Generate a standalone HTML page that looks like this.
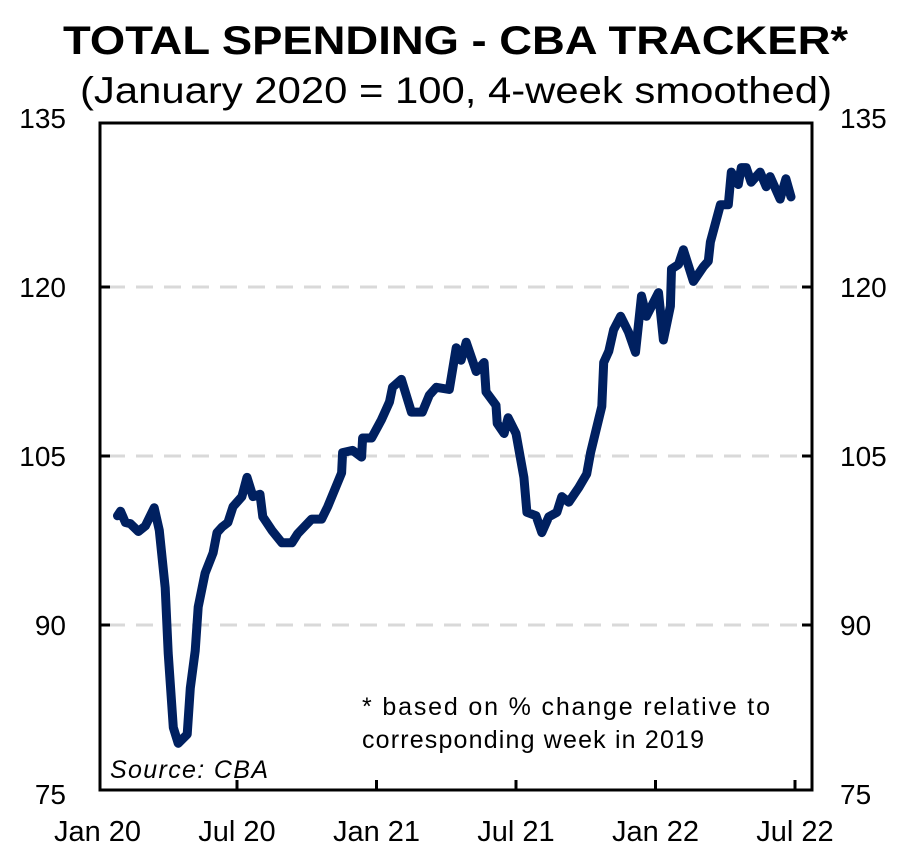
<!DOCTYPE html>
<html><head><meta charset="utf-8"><style>
body{margin:0;background:#fff;width:901px;height:858px;overflow:hidden}
svg text{font-family:"Liberation Sans",sans-serif;fill:#000}
</style></head><body>
<svg width="901" height="858">
<text x="63" y="54" font-size="40" font-weight="bold" textLength="785" lengthAdjust="spacingAndGlyphs">TOTAL SPENDING - CBA TRACKER*</text>
<text x="80" y="103" font-size="37" textLength="752" lengthAdjust="spacingAndGlyphs">(January 2020 = 100, 4-week smoothed)</text>
<g id="grid"></g>
<rect x="100" y="123" width="712" height="667" fill="none" stroke="#000" stroke-width="3"/>
<g id="axes"></g>
<path id="line" fill="none" stroke="#002060" stroke-width="9" stroke-linejoin="round" stroke-linecap="round"/>
<text x="362" y="715" font-size="25" textLength="408" lengthAdjust="spacing">*   based on % change  relative to</text>
<text x="362" y="748" font-size="25" textLength="342" lengthAdjust="spacing">corresponding  week in 2019</text>
<text x="110" y="778" font-size="25" font-style="italic" textLength="158" lengthAdjust="spacing">Source:  CBA</text>
</svg>
<script>
const months=[0.86,0.99,1.20,1.41,1.76,2.06,2.44,2.66,2.91,3.04,3.26,3.47,3.86,3.99,4.20,4.33,4.63,4.97,5.14,5.36,5.61,5.83,6.21,6.43,6.69,6.99,7.11,7.50,7.93,8.36,8.61,9.21,9.64,9.90,10.50,10.54,10.97,11.36,11.40,11.79,12.21,12.56,12.69,13.07,13.50,13.97,14.27,14.57,15.13,15.43,15.64,15.86,16.29,16.63,16.71,17.14,17.19,17.49,17.66,18.00,18.34,18.47,18.86,19.11,19.41,19.76,19.97,20.27,20.70,21.04,21.21,21.69,21.77,21.99,22.20,22.50,22.84,23.14,23.40,23.61,24.13,24.34,24.64,24.69,24.99,25.20,25.63,26.06,26.27,26.36,26.79,27.13,27.26,27.56,27.69,27.90,28.11,28.50,28.76,28.93,29.36,29.61,29.83];
const values=[99.7,100.1,99.1,99.0,98.3,98.8,100.4,98.4,93.3,87.5,80.9,79.5,80.3,84.4,87.7,91.6,94.6,96.4,98.2,98.7,99.1,100.5,101.4,103.1,101.4,101.6,99.6,98.4,97.3,97.3,98.1,99.4,99.4,100.5,103.5,105.3,105.5,104.9,106.6,106.6,108.2,109.8,111.1,111.8,108.9,108.9,110.4,111.1,110.9,114.6,113.5,115.1,112.5,113.3,110.7,109.5,107.9,107.0,108.4,107.0,103.1,100.0,99.7,98.2,99.6,100.0,101.4,100.9,102.2,103.4,105.3,109.4,113.3,114.3,116.2,117.4,116.0,114.2,119.2,117.4,119.5,115.3,118.3,121.6,122.0,123.3,120.5,121.8,122.3,124.0,127.3,127.3,130.2,129.1,130.6,130.6,129.3,130.2,128.9,129.8,127.8,129.6,128.0];
const yTicks=[135,120,105,90,75];
const xTickLabels=["Jan 20","Jul 20","Jan 21","Jul 21","Jan 22","Jul 22"];
const xTickMonths=[0,6,12,18,24,30];
const X=m=>97.5+m*23.25;
const Y=v=>118+(135-v)*(676/60);
const NS="http://www.w3.org/2000/svg";
const grid=document.getElementById('grid'),axes=document.getElementById('axes');
function mk(tag,attrs,parent,txt){const e=document.createElementNS(NS,tag);for(const k in attrs)e.setAttribute(k,attrs[k]);if(txt!==undefined)e.textContent=txt;parent.appendChild(e);return e;}
yTicks.forEach(v=>{
  const y=Y(v);
  if(v!==135&&v!==75){
    const g=mk('line',{x1:108,x2:805,y1:y,y2:y,stroke:'#d9d9d9','stroke-width':3,'stroke-dasharray':'17 11'},grid);
    
    
    const t1=mk('line',{x1:100,x2:110,y1:y,y2:y,stroke:'#000','stroke-width':3},axes);
    
    
    const t2=mk('line',{x1:802,x2:812,y1:y,y2:y,stroke:'#000','stroke-width':3},axes);
    
    
  }
  const l=mk('text',{x:66,y:y+10,'font-size':28,'text-anchor':'end'},axes,String(v));
  
  
  const r=mk('text',{x:840,y:y+10,'font-size':28},axes,String(v));
  
  
});
xTickMonths.forEach((m,i)=>{
  const x=X(m);
  if(i>0){
    const t=mk('line',{x1:x,x2:x,y1:780,y2:790,stroke:'#000','stroke-width':3},axes);
    
    
  }
  const l=mk('text',{x:x,y:841,'font-size':29,'text-anchor':'middle'},axes,xTickLabels[i]);
  
  
});
document.getElementById('line').setAttribute('d',months.map((m,i)=>(i?'L':'M')+X(m).toFixed(1)+','+Y(values[i]).toFixed(1)).join(''));
</script>
</body></html>
